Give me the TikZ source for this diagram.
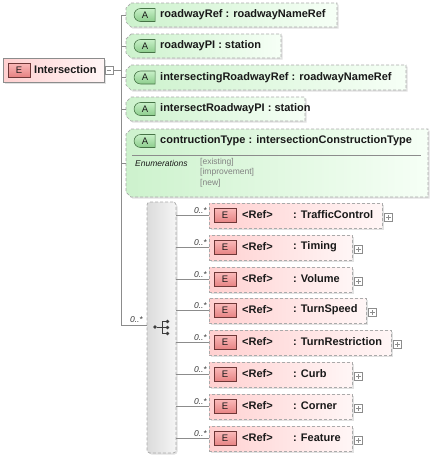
\documentclass[tikz,border=0pt]{standalone}
\usepackage{fontspec}
\setmainfont{Liberation Sans}
\usetikzlibrary{shapes.misc,shadows,fit}
\definecolor{attrL}{RGB}{205,242,205}
\definecolor{attrR}{RGB}{246,255,246}
\definecolor{elL}{RGB}{255,208,208}
\definecolor{elR}{RGB}{255,246,246}
\definecolor{dashg}{RGB}{170,170,170}
\definecolor{lineg}{RGB}{140,140,140}
\definecolor{shadowg}{RGB}{225,225,225}
\definecolor{abadgeT}{RGB}{200,240,200}
\definecolor{abadgeB}{RGB}{140,205,140}
\definecolor{abadgeD}{RGB}{70,115,70}
\definecolor{ebadgeT}{RGB}{250,185,185}
\definecolor{ebadgeB}{RGB}{230,130,130}
\definecolor{ebadgeD}{RGB}{110,55,55}
\definecolor{txtc}{RGB}{25,25,25}
\definecolor{enumc}{RGB}{130,130,130}
\definecolor{icong}{RGB}{60,60,60}
\newcommand\attrshape[5]{%
  \fill[shadowg] (#2+6.5,#3+1.5) -- (#4+1.5,#3+1.5) -- (#4+1.5,#5+1.5) -- (#2+6.5,#5+1.5) -- (#2+1.5,#5-3.5) -- (#2+1.5,#3+6.5) -- cycle;
  \shadedraw[left color=attrL, right color=attrR, dashb] (#2+5,#3) -- (#4,#3) -- (#4,#5) -- (#2+5,#5) -- (#2,#5-5) -- (#2,#3+5) -- cycle;
  \node[fit={(#2,#3) (#4,#5)}, inner sep=0pt] (#1) {};
}
\begin{document}
\begin{tikzpicture}[x=1pt,y=-1pt,
  conn/.style={draw=lineg, line width=0.7pt},
  dashb/.style={draw=dashg, dash pattern=on 3pt off 2pt, line width=0.7pt},
  atxt/.style={inner sep=0pt, anchor=west, text=txtc, font=\fontsize{11}{13}\selectfont\bfseries},
  abadge/.style={rounded rectangle, rounded rectangle right arc=none, draw=abadgeD, line width=0.6pt,
     top color=abadgeT, bottom color=abadgeB, minimum width=21pt, minimum height=13pt, inner sep=0pt,
     text=txtc, font=\fontsize{9.5}{10}\selectfont},
  ebadge/.style={rectangle, draw=ebadgeD, line width=0.6pt, top color=ebadgeT, bottom color=ebadgeB,
     minimum width=22pt, minimum height=14pt, inner sep=0pt, text=txtc, font=\fontsize{9.5}{10}\selectfont},
  elbox/.style={rectangle, inner sep=0pt, left color=elL, right color=elR, dashb,
     drop shadow={shadow xshift=1.5pt, shadow yshift=-1.5pt, fill=shadowg, opacity=1}},
  pmbox/.style={rectangle, draw=lineg, fill=white, line width=0.5pt, minimum size=8pt, inner sep=0pt},
  mult/.style={inner sep=0pt, text=icong, font=\fontsize{8.5}{9}\selectfont\itshape},
  dotc/.style={circle, fill=icong, minimum size=3.6pt, inner sep=0pt},
]
\useasboundingbox (0,0) rectangle (433,459);

% root element
\node[rectangle, draw=lineg, line width=0.7pt, left color=elL, right color=elR, inner sep=0pt,
  drop shadow={shadow xshift=1.5pt, shadow yshift=-1.5pt, fill=shadowg, opacity=1},
  fit={(3,58) (104,82)}] (root) {};
\node[ebadge] (rootE) at (19,70) {E};
\node[atxt] (rootT) at (34,70) {Intersection};
\node[pmbox] (minus) at (109,70) {};
\draw[lineg, line width=0.6pt] ([xshift=1.8pt]minus.west) -- ([xshift=-1.8pt]minus.east);

% trunk coordinates
\coordinate (tk0) at (121,70);
\coordinate (tk1) at (121,15);
\coordinate (tk2) at (121,46);
\coordinate (tk3) at (121,77.5);
\coordinate (tk4) at (121,109);
\coordinate (tk5) at (121,163);
\coordinate (tkc) at (121,325);

% attributes
\attrshape{A1}{126}{3}{337}{27}
\attrshape{A2}{126}{34}{281}{58}
\attrshape{A3}{126}{65}{406}{90}
\attrshape{A4}{126}{97}{305}{121}
\attrshape{A5}{126}{129}{428}{197}

\node[abadge] (A1b) at (145,15) {A};
\node[atxt] (A1t) at (160,15) {roadwayRef : roadwayNameRef};
\node[abadge] (A2b) at (145,46) {A};
\node[atxt] (A2t) at (160,46) {roadwayPI : station};
\node[abadge] (A3b) at (145,77.5) {A};
\node[atxt] (A3t) at (160,77.5) {intersectingRoadwayRef : roadwayNameRef};
\node[abadge] (A4b) at (145,109) {A};
\node[atxt] (A4t) at (160,109) {intersectRoadwayPI : station};
\node[abadge] (A5b) at (145,141) {A};
\node[atxt] (A5t) at (160,141) {contructionType : intersectionConstructionType};
\coordinate (sep1) at (132,155);
\coordinate (sep2) at (421,155);
\draw[lineg, line width=0.6pt] (sep1) -- (sep2);
\node[inner sep=0pt, anchor=west, text=txtc, font=\fontsize{8.5}{9}\selectfont\itshape] (enh) at (135,163) {Enumerations};
\node[inner sep=0pt, anchor=west, text=enumc, font=\fontsize{8.5}{9}\selectfont] (en1) at (200,162.5) {[existing]};
\node[inner sep=0pt, anchor=west, text=enumc, font=\fontsize{8.5}{9}\selectfont] (en2) at (200,172.5) {[improvement]};
\node[inner sep=0pt, anchor=west, text=enumc, font=\fontsize{8.5}{9}\selectfont] (en3) at (200,183) {[new]};

% connectors from root
\draw[conn] (minus.east) -- (tk0);
\draw[conn] (tk1) -- (tkc);
\draw[conn] (tk1) -- (A1.west);
\draw[conn] (tk2) -- (A2.west);
\draw[conn] (tk3) -- (A3.west);
\draw[conn] (tk4) -- (A4.west);
\draw[conn] (tk5) -- (A5.west);

% compositor
\node[rectangle, rounded corners=3pt, left color=black!14, right color=black!4, dashb, inner sep=0pt,
  drop shadow={shadow xshift=1.5pt, shadow yshift=-1.5pt, fill=shadowg, opacity=1},
  fit={(147,202) (176,453)}] (choice) {};
\draw[conn] (tkc) -- (tkc -| choice.west);
\node[mult, anchor=south east] (mc) at (143,323) {0..*};
\node[dotc] (ic0) at (155,327) {};
\node[dotc] (ic1) at (167.5,321.5) {};
\node[dotc] (ic2) at (167.5,327.5) {};
\node[dotc] (ic3) at (167.5,333.5) {};
\coordinate (icv) at (162,327);
\draw[icong, line width=0.8pt] (ic0) -- (icv);
\draw[icong, line width=0.8pt] (ic1 -| icv) -- (ic3 -| icv);
\draw[icong, line width=0.8pt] (ic1 -| icv) -- (ic1);
\draw[icong, line width=0.8pt] (ic2 -| icv) -- (ic2);
\draw[icong, line width=0.8pt] (ic3 -| icv) -- (ic3);

% element references
\foreach \i/\t/\r/\n in {1/203/382/TrafficControl, 2/235/352/Timing, 3/267/352/Volume,
    4/298/366/TurnSpeed, 5/330/391/TurnRestriction, 6/362/352/Curb, 7/394/352/Corner, 8/426/352/Feature}{
  \node[elbox, fit={(209,\t) (\r,\t+25)}] (e\i) {};
  \node[ebadge] (e\i b) at (225,\t+12.5) {E};
  \node[atxt] (e\i r) at (242,\t+12) {<Ref>};
  \node[atxt] (e\i n) at (293,\t+12) {: \n};
  \node[pmbox] (e\i p) at (\r+6.5,\t+14.5) {};
  \draw[lineg, line width=0.5pt] ([xshift=1.8pt]e\i p.west) -- ([xshift=-1.8pt]e\i p.east);
  \draw[lineg, line width=0.5pt] ([yshift=1.8pt]e\i p.south) -- ([yshift=-1.8pt]e\i p.north);
  \draw[conn] (e\i.west -| choice.east) -- (e\i.west);
  \node[mult, anchor=south east] (m\i) at (207,\t+11) {0..*};
}
\end{tikzpicture}
\end{document}
